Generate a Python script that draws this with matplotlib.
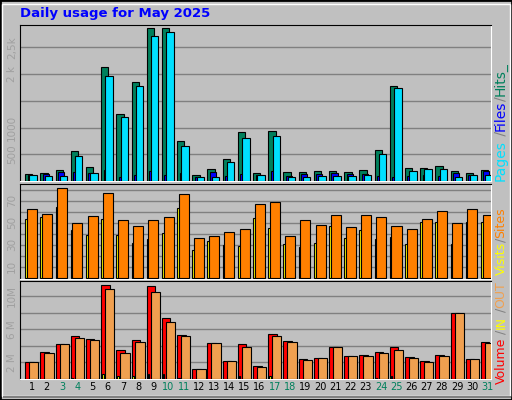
import matplotlib
matplotlib.use("Agg")
import matplotlib.pyplot as plt
from matplotlib.patches import Rectangle
import numpy as np

days = list(range(1, 32))
weekend_days = [3, 4, 10, 11, 17, 18, 24, 25, 31]
hits = [138,157,200,570,257,2130,1254,1855,2870,2870,746,107,220,408,915,144,934,163,163,182,182,163,200,577,1780,238,238,276,182,144,200]
files = [107,88,88,464,144,1970,1198,1780,2720,2780,652,69,69,351,803,107,840,69,69,88,88,88,107,502,1743,182,220,220,69,107,107]
pages = [107,125,163,163,144,200,69,107,182,107,144,69,163,88,125,107,182,88,125,125,144,125,125,88,69,88,107,88,144,107,182]
visits = [53,55,64,43,39,53,39,32,35,41,63,25,33,30,29,54,45,31,28,32,47,36,43,35,37,31,51,51,31,51,51]
sites = [62,58,81,50,56,77,52,47,52,55,76,36,38,42,44,67,69,38,52,48,57,46,57,55,47,44,53,61,50,62,57]
volume = [2.04,3.3,4.17,5.17,4.8,11.3,3.54,4.67,11.2,7.4,5.3,1.17,4.3,2.17,4.17,1.54,5.4,4.54,2.42,2.54,3.9,2.8,2.9,3.3,3.9,2.67,2.17,2.9,8.0,2.42,4.4]
vol_out = [2.04,3.17,4.17,4.9,4.67,10.8,3.17,4.4,10.5,6.9,5.17,1.17,4.3,2.17,3.9,1.42,5.17,4.4,2.3,2.54,3.9,2.8,2.8,3.17,3.54,2.54,2.04,2.8,8.0,2.42,4.3]
vol_in = [0.05,0.05,0.05,0.15,0.05,0.6,0.35,0.35,0.6,0.6,0.15,0.05,0.05,0.05,0.35,0.05,0.35,0.05,0.05,0.05,0.05,0.05,0.05,0.15,0.35,0.05,0.05,0.05,0.05,0.05,0.05]

W, H = 512, 400
fig = plt.figure(figsize=(5.12, 4.0), dpi=100)
fig.patch.set_facecolor("#C0C0C0")
BG = "#C0C0C0"

def fx(x): return x / W
def fy(y): return 1 - y / H

fig.patches.append(Rectangle((0, 0), 1, 1, transform=fig.transFigure, fill=False, ec="black", lw=2))
fig.patches.append(Rectangle((fx(2), fy(396)), fx(508), (394 - 2) / H, transform=fig.transFigure, fill=False, ec="white", lw=1))
fig.patches.append(Rectangle((fx(3), fy(398)), fx(508), 2 / H, transform=fig.transFigure, color="#808080", lw=0))

def make_ax(top, bottom):
    ax = fig.add_axes([fx(20), fy(bottom), fx(491 - 20), (bottom - top) / H])
    ax.set_facecolor(BG)
    ax.set_xlim(0.2, 31.2)
    ax.set_xticks([])
    for s in ["left", "top"]:
        ax.spines[s].set_color("black")
    for s in ["right", "bottom"]:
        ax.spines[s].set_color("white")
    ax.tick_params(axis="y", length=0, labelsize=7.5, labelcolor="#A0A0A0", pad=2)
    ax.yaxis.grid(True, color="#808080", lw=1)
    ax.set_axisbelow(True)
    return ax

def bars(ax, vals, l, r, color, lw=0.8):
    d = np.array(days)
    ax.bar(d + l, vals, width=r - l, align="edge", color=color, edgecolor="black", lw=lw, zorder=3)

ax1 = make_ax(25, 181)
ax1.set_ylim(0, 2920)
bars(ax1, hits, -0.46, 0.02, "#00805C")
bars(ax1, pages, -0.30, 0.10, "#0000FF")
bars(ax1, files, -0.18, 0.31, "#00E0FF")
ax1.set_yticks([500, 1000, 1500, 2000, 2500])
ax1.set_yticklabels(["500", "1000", "", "2 k", "2,5k"], rotation=90, va="center")

ax2 = make_ax(184, 279)
ax2.set_ylim(-1, 85)
bars(ax2, visits, -0.46, -0.35, "#FFFF00")
bars(ax2, sites, -0.35, 0.31, "#FF8000")
ax2.set_yticks([10, 20, 30, 40, 50, 60, 70, 80])
ax2.set_yticklabels(["10", "", "30", "", "50", "", "70", ""], rotation=90, va="center")

ax3 = make_ax(281, 379)
ax3.set_ylim(0, 11.8)
bars(ax3, volume, -0.46, 0.1, "#FF0000")
bars(ax3, vol_in, -0.40, -0.30, "#FFFF00")
bars(ax3, vol_out, -0.20, 0.41, "#F0A050")
ax3.set_yticks([2, 4, 6, 8, 10])
ax3.set_yticklabels(["2 M", "", "6 M", "", "10M"], rotation=90, va="center")

for d in days:
    x = 20 + (d - 0.2) * (471 / 31.0) - 0.5
    fig.text(fx(x), fy(387), str(d), ha="center", va="center", fontsize=7,
             color="#00805C" if d in weekend_days else "black")

fig.text(fx(20), fy(14), "Daily usage for May 2025", ha="left", va="center",
         fontsize=9.5, fontweight="bold", color="#0000FF")

def vlabel(parts, ystart, fs, x=501):
    y = ystart
    r = fig.canvas.get_renderer()
    for txt, col in parts:
        t = fig.text(fx(x), fy(y), txt, rotation=90, ha="center", va="bottom",
                     fontsize=fs, color=col)
        bb = t.get_window_extent(renderer=r)
        y -= bb.height

vlabel([("Pages", "#00E0FF"), (" /", "#808080"), ("Files", "#0000FF"), ("/", "#808080"), ("Hits_", "#00805C")], 181, 10)
vlabel([("Visits", "#FFFF00"), ("/", "#808080"), ("Sites", "#FF8000")], 275, 9)
vlabel([("Volume", "#FF0000"), (" /", "#808080"), ("IN", "#FFFF00"), (" /", "#808080"), ("OUT", "#F0A050")], 384, 9)

fig.savefig("out.png", dpi=100, facecolor=fig.get_facecolor())
